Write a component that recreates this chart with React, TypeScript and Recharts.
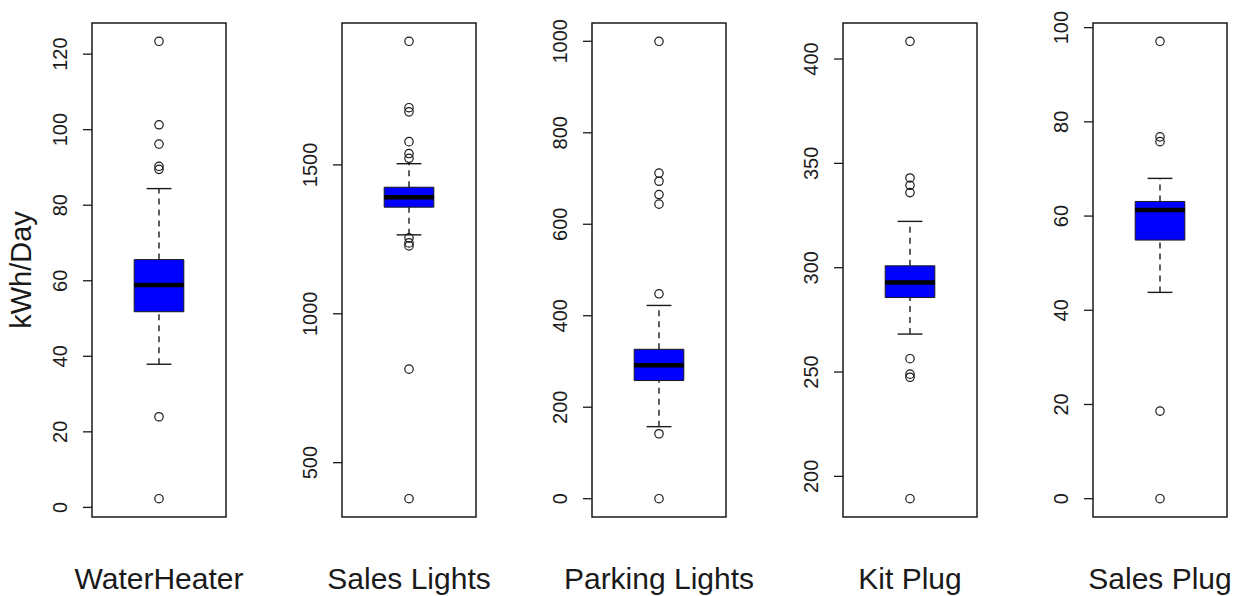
import { ComposedChart, XAxis, YAxis, Scatter, ReferenceArea, ReferenceLine, Label } from "recharts";

// one box per meter, each with its own y scale
const categories = ["WaterHeater", "Sales Lights", "Parking Lights", "Kit Plug", "Sales Plug"];

const lowerWhisker = [37.9, 1265, 157.5, 268.2, 43.8];
const q1 = [51.8, 1358, 258.3, 285.7, 54.9];
const median = [58.9, 1391, 291.7, 292.9, 61.3];
const q3 = [65.6, 1425, 326.7, 300.9, 63.1];
const upperWhisker = [84.4, 1504, 422.5, 322.2, 68.0];

const waterHeaterOutliers = [123.4, 101.3, 96.2, 90.3, 89.5, 24.0, 2.3];
const salesLightsOutliers = [1915, 1692, 1678, 1578, 1538, 1522, 1255, 1238, 1228, 814, 379];
const parkingLightsOutliers = [1000, 712, 694, 665, 644, 448, 142, 0];
const kitPlugOutliers = [408.5, 343, 339.5, 336, 256.4, 249, 247.5, 189.3];
const salesPlugOutliers = [97.1, 76.8, 75.8, 18.6, 0];

const outlierSets = [
  waterHeaterOutliers,
  salesLightsOutliers,
  parkingLightsOutliers,
  kitPlugOutliers,
  salesPlugOutliers,
];

const yTicks = [
  [0, 20, 40, 60, 80, 100, 120],
  [500, 1000, 1500],
  [0, 200, 400, 600, 800, 1000],
  [200, 250, 300, 350, 400],
  [0, 20, 40, 60, 80, 100],
];

const yTitle = "kWh/Day";

const panelLeft = [0, 250, 500, 751, 1001];
const X_DOMAIN: [number, number] = [0.46, 1.54];
const BOX_HALF = 0.2;
const STAPLE_HALF = 0.1;
const INK = "#1a1a1a";

function RotatedTick(props: any) {
  const { x, y, payload } = props;
  return (
    <text
      x={x}
      y={y}
      transform={`rotate(-90 ${x} ${y})`}
      textAnchor="middle"
      fontSize={20}
      fill={INK}
    >
      {payload.value}
    </text>
  );
}

function YTitle(props: any) {
  const { viewBox, value } = props;
  const cx = viewBox.x + 31;
  const cy = viewBox.y + viewBox.height / 2;
  return (
    <text
      x={cx}
      y={cy}
      transform={`rotate(-90 ${cx} ${cy})`}
      textAnchor="middle"
      fontSize={29}
      fill={INK}
    >
      {value}
    </text>
  );
}

const OpenCircle = (props: any) => (
  <circle cx={props.cx} cy={props.cy} r={4.2} fill="none" stroke={INK} strokeWidth={1.2} />
);

function Panel({ i }: { i: number }) {
  const outliers = outlierSets[i];
  // R-style limits: data range padded by 4% each side
  const lo = Math.min(lowerWhisker[i], ...outliers);
  const hi = Math.max(upperWhisker[i], ...outliers);
  const pad = (hi - lo) * 0.04;
  const domain: [number, number] = [lo - pad, hi + pad];
  const points = outliers.map((v) => ({ x: 1, y: v }));

  return (
    <div style={{ position: "absolute", left: panelLeft[i], top: 0 }}>
      {/* extra right margin leaves room for the wide category names */}
      <ComposedChart width={320} height={596} margin={{ top: 23, right: 94, bottom: 0, left: 0 }}>
        <XAxis
          type="number"
          dataKey="x"
          domain={X_DOMAIN}
          tick={false}
          axisLine={false}
          tickLine={false}
          height={79}
        >
          <Label value={categories[i]} position="insideTop" offset={51} fontSize={30} fill={INK} />
        </XAxis>
        <YAxis
          type="number"
          dataKey="y"
          domain={domain}
          ticks={yTicks[i]}
          interval={0}
          width={92}
          axisLine={false}
          tickSize={9}
          tickMargin={16}
          tickLine={{ stroke: INK, strokeWidth: 1.3 }}
          tick={<RotatedTick />}
        >
          {i === 0 && <Label value={yTitle} content={<YTitle />} />}
        </YAxis>

        {/* whiskers */}
        <ReferenceLine
          segment={[{ x: 1, y: q3[i] }, { x: 1, y: upperWhisker[i] }]}
          stroke={INK}
          strokeWidth={1.4}
          strokeDasharray="6 5"
        />
        <ReferenceLine
          segment={[{ x: 1, y: lowerWhisker[i] }, { x: 1, y: q1[i] }]}
          stroke={INK}
          strokeWidth={1.4}
          strokeDasharray="6 5"
        />
        <ReferenceLine
          segment={[{ x: 1 - STAPLE_HALF, y: upperWhisker[i] }, { x: 1 + STAPLE_HALF, y: upperWhisker[i] }]}
          stroke={INK}
          strokeWidth={1.4}
        />
        <ReferenceLine
          segment={[{ x: 1 - STAPLE_HALF, y: lowerWhisker[i] }, { x: 1 + STAPLE_HALF, y: lowerWhisker[i] }]}
          stroke={INK}
          strokeWidth={1.4}
        />

        {/* box and median */}
        <ReferenceArea
          x1={1 - BOX_HALF}
          x2={1 + BOX_HALF}
          y1={q1[i]}
          y2={q3[i]}
          fill="#0000ff"
          fillOpacity={1}
          stroke={INK}
          strokeWidth={1}
        />
        <ReferenceLine
          segment={[{ x: 1 - BOX_HALF, y: median[i] }, { x: 1 + BOX_HALF, y: median[i] }]}
          stroke="#000000"
          strokeWidth={4.5}
        />

        <Scatter data={points} dataKey="y" shape={OpenCircle} isAnimationActive={false} />

        {/* plot frame */}
        <ReferenceArea
          x1={X_DOMAIN[0]}
          x2={X_DOMAIN[1]}
          y1={domain[0]}
          y2={domain[1]}
          fill="none"
          stroke={INK}
          strokeWidth={1.5}
        />
      </ComposedChart>
    </div>
  );
}

export default function App() {
  return (
    <div
      style={{
        position: "absolute",
        left: 0,
        top: 0,
        width: 1237,
        height: 596,
        overflow: "hidden",
        background: "#ffffff",
        fontFamily: "'Liberation Sans', Arial, sans-serif",
      }}
    >
      {categories.map((_, i) => (
        <Panel key={categories[i]} i={i} />
      ))}
    </div>
  );
}
